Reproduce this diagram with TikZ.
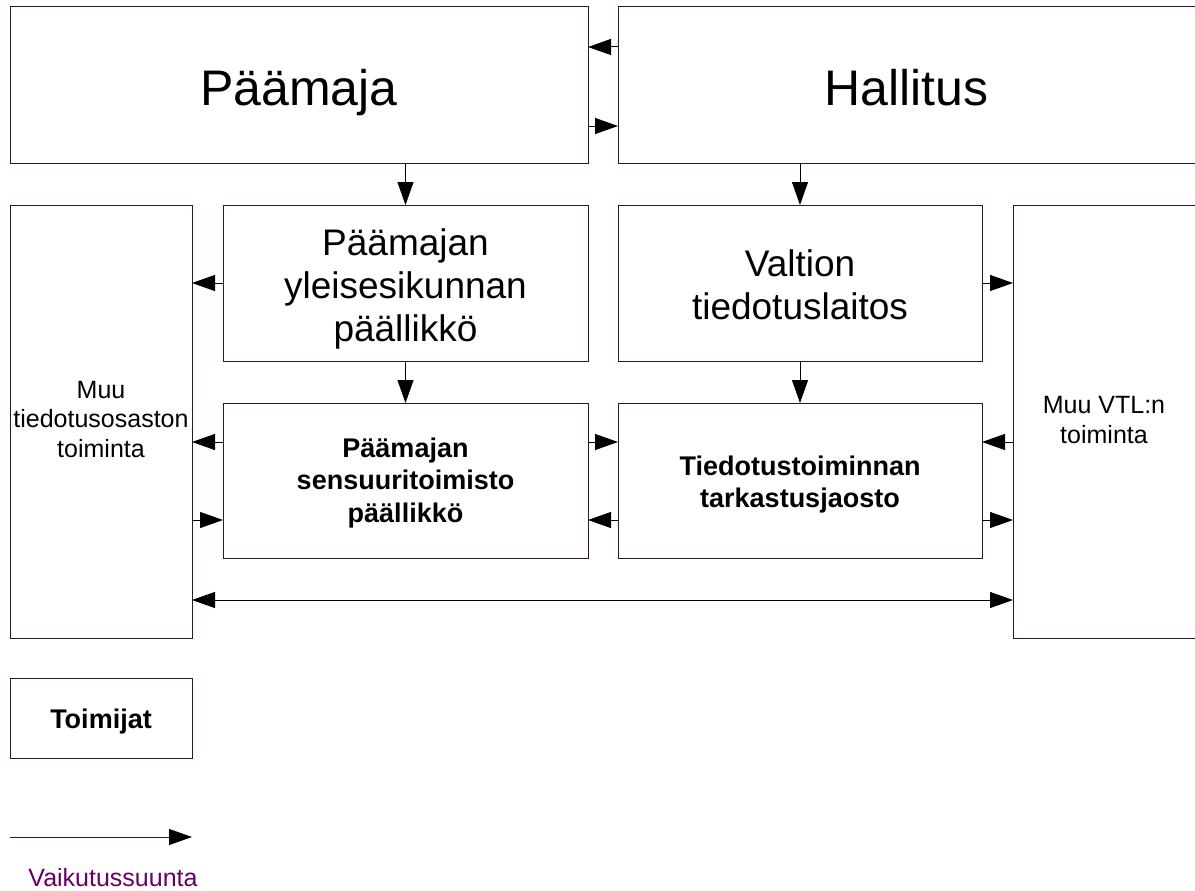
\documentclass[tikz,border=0pt]{standalone}
\usepackage{fontspec}
\setmainfont{Liberation Sans}
\usetikzlibrary{arrows.meta,calc}
\definecolor{boxc}{RGB}{55,15,55}
\definecolor{legc}{RGB}{102,0,102}
\begin{document}
\begin{tikzpicture}[x=1pt,y=-1pt,
  box/.style={draw=boxc, line width=1pt, inner sep=0pt, outer sep=0pt},
  openbox/.style={inner sep=0pt, outer sep=0pt},
  boxline/.style={draw=boxc, line width=1pt},
  arr/.style={line width=1pt, -{Triangle[length=23pt,width=16pt]}},
  darr/.style={line width=1pt, {Triangle[length=23pt,width=16pt]}-{Triangle[length=23pt,width=16pt]}},
  bigtxt/.style={anchor=base, inner sep=0pt, font=\fontsize{50}{58}\selectfont},
  midtxt/.style={anchor=base, inner sep=0pt, font=\fontsize{37}{43}\selectfont},
  boldtxt/.style={anchor=base, inner sep=0pt, font=\fontsize{27}{32.5}\selectfont\bfseries},
  smalltxt/.style={anchor=base, inner sep=0pt, font=\fontsize{25}{29.5}\selectfont}]
\useasboundingbox (0,0) rectangle (1195,891);

% boxes
\node[box, minimum width=578pt, minimum height=156pt] (pm) at (299,85) {};
\node[openbox, minimum width=578pt, minimum height=156pt] (hal) at (907,85) {};
\draw[boxline] (hal.north east) -- (hal.north west) -- (hal.south west) -- (hal.south east);
\node[box, minimum width=365pt, minimum height=156pt] (ye) at (405.5,283) {};
\node[box, minimum width=364pt, minimum height=156pt] (vt) at (800,283) {};
\node[box, minimum width=365pt, minimum height=155pt] (se) at (405.5,480.5) {};
\node[box, minimum width=364pt, minimum height=155pt] (tt) at (800,480.5) {};
\node[box, minimum width=182pt, minimum height=433pt] (lm) at (101,421.5) {};
\node[openbox, minimum width=183pt, minimum height=433pt] (rm) at (1104.5,421.5) {};
\draw[boxline] (rm.north east) -- (rm.north west) -- (rm.south west) -- (rm.south east);
\node[box, minimum width=182pt, minimum height=80pt] (toim) at (101,718) {};

% texts
\node[bigtxt] (pmt) at (299,106) {Päämaja};
\node[bigtxt] (halt) at (906.5,106) {Hallitus};
\node[midtxt] (yet) at (405.5,255) {\begin{tabular}[t]{@{}c@{}}Päämajan\\yleisesikunnan\\päällikkö\end{tabular}};
\node[midtxt] (vtt) at (800,276) {\begin{tabular}[t]{@{}c@{}}Valtion\\tiedotuslaitos\end{tabular}};
\node[boldtxt] (set) at (405.5,457) {\begin{tabular}[t]{@{}c@{}}Päämajan\\sensuuritoimisto\\päällikkö\end{tabular}};
\node[boldtxt] (ttt) at (800,475) {\begin{tabular}[t]{@{}c@{}}Tiedotustoiminnan\\tarkastusjaosto\end{tabular}};
\node[smalltxt] (lmt) at (101,398) {\begin{tabular}[t]{@{}c@{}}Muu\\tiedotusosaston\\toiminta\end{tabular}};
\node[smalltxt] (rmt) at (1104,413.5) {\begin{tabular}[t]{@{}c@{}}Muu VTL:n\\toiminta\end{tabular}};
\node[boldtxt] (toimt) at (101,728) {Toimijat};

% arrows between top boxes
\draw[arr] ([yshift=-40pt]hal.north west) -- ([yshift=-40pt]pm.north east);
\draw[arr] ([yshift=37pt]pm.south east) -- ([yshift=37pt]hal.south west);

% vertical arrows
\draw[arr] (ye.north |- pm.south) -- (ye.north);
\draw[arr] (vt.north |- hal.south) -- (vt.north);
\draw[arr] (se.north |- ye.south) -- (se.north);
\draw[arr] (tt.north |- vt.south) -- (tt.north);

% side arrows
\draw[arr] (ye.west) -- (ye.west -| lm.east);
\draw[arr] ([yshift=-39pt]se.north west) -- ([yshift=-39pt]se.north west -| lm.east);
\draw[arr] ([yshift=38pt]se.south west -| lm.east) -- ([yshift=38pt]se.south west);
\draw[arr] ([yshift=-39pt]se.north east) -- ([yshift=-39pt]tt.north west);
\draw[arr] ([yshift=38pt]tt.south west) -- ([yshift=38pt]se.south east);
\draw[arr] (vt.east) -- (vt.east -| rm.west);
\draw[arr] ([yshift=-39pt]tt.north east -| rm.west) -- ([yshift=-39pt]tt.north east);
\draw[arr] ([yshift=38pt]tt.south east) -- ([yshift=38pt]tt.south east -| rm.west);
\draw[darr] ([yshift=38pt]lm.south east) -- ([yshift=38pt]lm.south east -| rm.west);

% legend
\coordinate (la) at (10,837);
\coordinate (lb) at (192,837);
\draw[draw=boxc, line width=1pt, -{Triangle[length=23pt,width=16pt,black]}] (la) -- (lb);
\node[smalltxt, text=legc] (legt) at (113,886.5) {Vaikutussuunta};
\end{tikzpicture}
\end{document}
